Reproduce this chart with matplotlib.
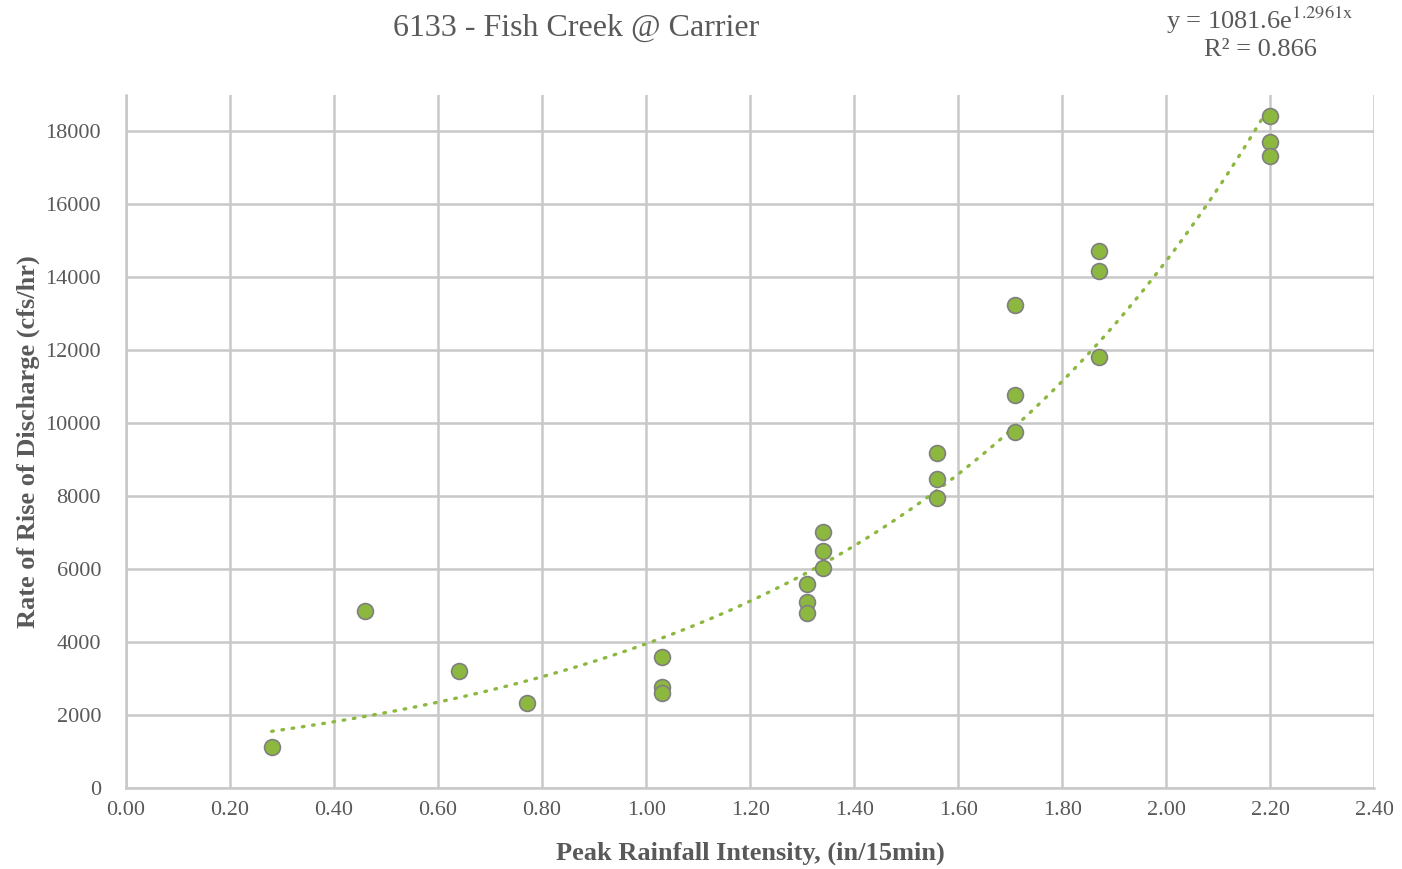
import numpy as np
import matplotlib.pyplot as plt

# Peak rainfall intensity (in/15min) and rate of rise of discharge (cfs/hr)
intensity = [0.28, 0.46, 0.64, 0.77, 1.03, 1.03, 1.03, 1.31, 1.31, 1.31,
             1.34, 1.34, 1.34, 1.56, 1.56, 1.56, 1.71, 1.71, 1.71,
             1.87, 1.87, 1.87, 2.20, 2.20, 2.20]
rise_rate = [1120, 4850, 3200, 2330, 3580, 2760, 2600, 5590, 5110, 4790,
             7010, 6490, 6040, 9190, 8460, 7940, 13250, 10770, 9760,
             14720, 14170, 11820, 18420, 17710, 17330]

# exponential trendline shown on the chart
trend_a = 1081.6
trend_b = 1.2961
trend_r2 = 0.866

x_ticks = [0.0, 0.2, 0.4, 0.6, 0.8, 1.0, 1.2, 1.4, 1.6, 1.8, 2.0, 2.2, 2.4]
y_ticks = [0, 2000, 4000, 6000, 8000, 10000, 12000, 14000, 16000, 18000]

txt = '#595959'
grid = '#c8c8c8'
green = '#8cb840'

plt.rcParams['font.family'] = ['Liberation Serif', 'DejaVu Serif']

fig = plt.figure(figsize=(14.02, 8.69), dpi=100)
ax = fig.add_axes([0.0899, 0.0932, 0.8903, 0.7975])

# trendline
tx = np.linspace(min(intensity), max(intensity), 200)
ty = trend_a * np.exp(trend_b * tx)
ax.plot(tx, ty, color=green, linewidth=2.4, linestyle=(0, (0.5, 2.6)),
        dash_capstyle='round', zorder=2)

# data points
ax.scatter(intensity, rise_rate, s=130, color=green, edgecolor='#7f7f7f',
           linewidth=1.2, zorder=3)

ax.set_xlim(0, 2.4)
ax.set_ylim(0, 19000)
ax.set_xticks(x_ticks)
ax.set_xticklabels([f'{v:.2f}' for v in x_ticks])
ax.set_yticks(y_ticks)
ax.grid(True, color=grid, linewidth=1.8, zorder=0)
ax.set_axisbelow(True)
for s in ['top', 'right']:
    ax.spines[s].set_visible(False)
for s in ['left', 'bottom']:
    ax.spines[s].set_color(grid)
    ax.spines[s].set_linewidth(1.8)
ax.tick_params(axis='both', colors=txt, labelsize=16, length=0, pad=9)
ax.tick_params(axis='y', pad=18)

ax.set_xlabel('Peak Rainfall Intensity, (in/15min)', fontsize=19,
              fontweight='bold', color=txt, labelpad=16)
ax.set_ylabel('Rate of Rise of Discharge (cfs/hr)', fontsize=19,
              fontweight='bold', color=txt, labelpad=4)

fig.text(576 / 1402, 1 - 28 / 869, '6133 - Fish Creek @ Carrier', fontsize=23,
         color=txt, ha='center', va='center')
fig.text(1260 / 1402, 1 - 20 / 869, f'y = {trend_a}e$^{{\\mathrm{{{trend_b}x}}}}$',
         fontsize=19, color=txt, ha='center', va='center', math_fontfamily='stix')
fig.text(1260 / 1402, 1 - 50 / 869, f'R² = {trend_r2}', fontsize=19,
         color=txt, ha='center', va='center')

fig.savefig('out.png', dpi=100)
